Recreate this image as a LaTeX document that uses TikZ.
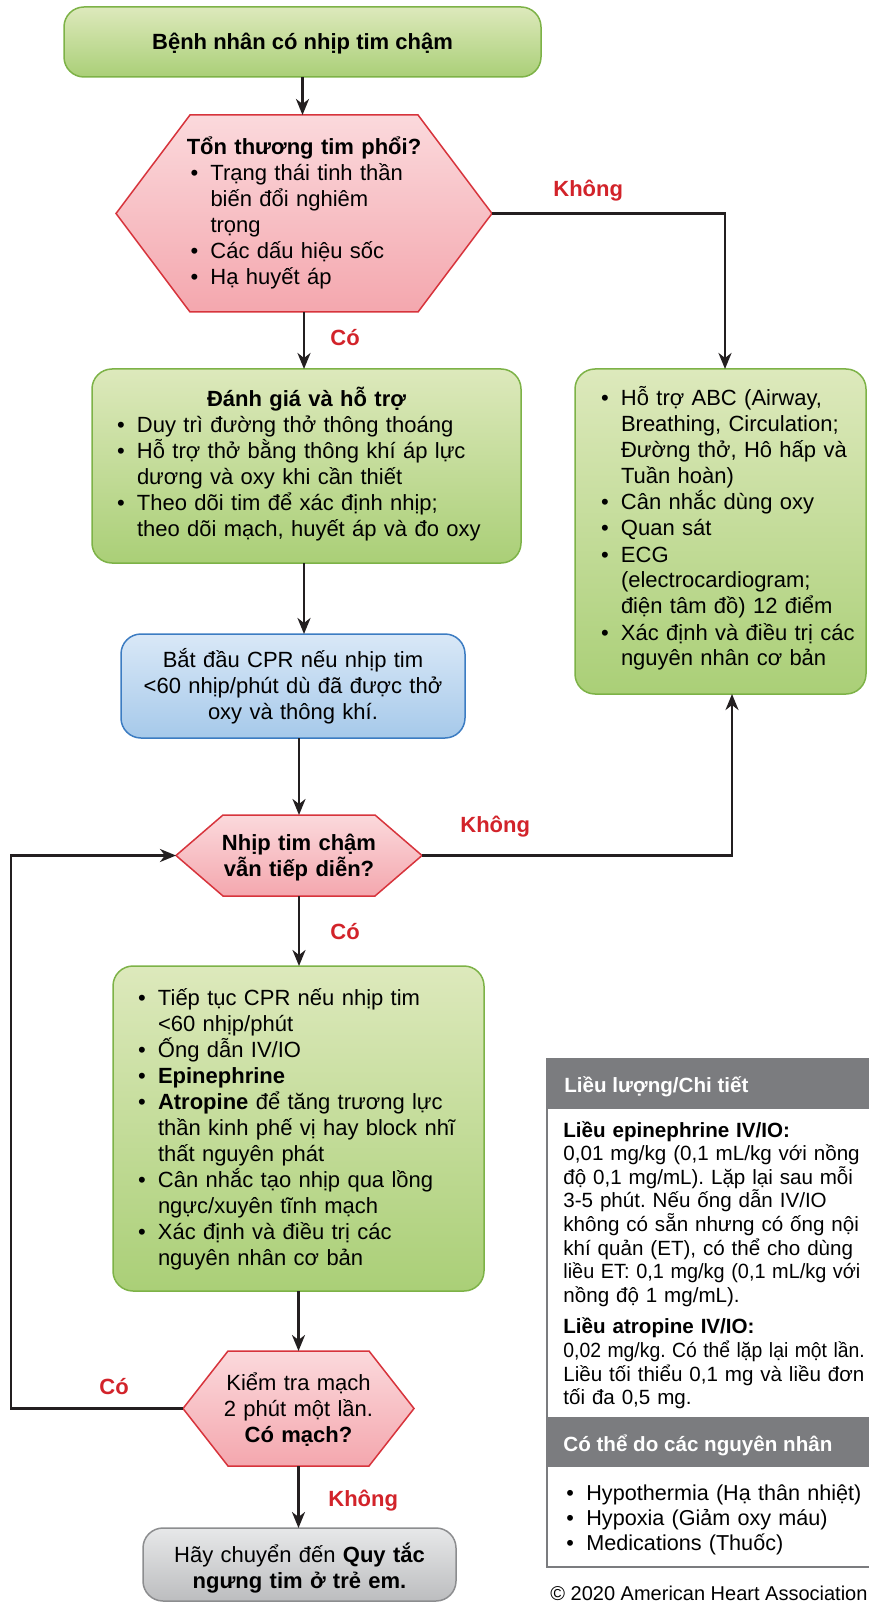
\documentclass[tikz,border=0pt]{standalone}
\usepackage{graphicx}
\usepackage{fontspec}
\setmainfont{Liberation Sans}
\usetikzlibrary{arrows.meta,backgrounds}

% colours
\definecolor{greentop}{HTML}{DDE9BC}
\definecolor{greenbot}{HTML}{AACF77}
\definecolor{greenline}{HTML}{7DB247}
\definecolor{pinktop}{HTML}{FBD9DC}
\definecolor{pinkbot}{HTML}{F4A7AE}
\definecolor{pinkline}{HTML}{D7343C}
\definecolor{bluetop}{HTML}{D9E8F7}
\definecolor{bluebot}{HTML}{A6C9EA}
\definecolor{blueline}{HTML}{3C7CC2}
\definecolor{graytop}{HTML}{E7E8E9}
\definecolor{graybot}{HTML}{BCBDBF}
\definecolor{grayline}{HTML}{8C8D8F}
\definecolor{infogray}{HTML}{7B7C7F}
\definecolor{labelred}{HTML}{D2232A}
\definecolor{arrowgray}{HTML}{231F20}

\lineskiplimit=-30pt
\normallineskiplimit=-30pt
\frenchspacing

\newlength\bulw
\setlength\bulw{10pt}
\newcommand\bitem[1]{\makebox[\bulw][l]{•}\mbox{#1}}
\newcommand\bcont[1]{\hspace*{\bulw}\mbox{#1}}
\newcommand\tight[2][0.965]{\scalebox{#1}[1]{#2}}
% hexagon behind a decision node: #1 node, #2 size of the point
\newcommand\drawhex[2]{\path[hexfill] (#1.west) -- ([xshift=#2]#1.north west) -- ([xshift=-#2]#1.north east) -- (#1.east) -- ([xshift=-#2]#1.south east) -- ([xshift=#2]#1.south west) -- cycle;}

\tikzset{
  txt/.style={font=\fontsize{11}{13}\selectfont},
  box/.style={txt, line width=.75pt, rounded corners=10pt, inner sep=0pt, outer sep=0pt, text height=10pt},
  greenbox/.style={box, draw=greenline, top color=greentop, bottom color=greenbot},
  bluebox/.style={box, draw=blueline, top color=bluetop, bottom color=bluebot},
  graybox/.style={box, draw=grayline, top color=graytop, bottom color=graybot},
  decision/.style={txt, inner sep=0pt, outer sep=0pt, text height=10pt},
  hexfill/.style={draw=pinkline, line width=.75pt, top color=pinktop, bottom color=pinkbot},
  flow/.style={draw=arrowgray, line width=1.3pt, -{Stealth[length=8pt,width=6.5pt,inset=2.5pt]}},
  answer/.style={anchor=base west, text=labelred, font=\fontsize{11}{13}\selectfont\bfseries, inner sep=0pt},
  infohead/.style={anchor=base west, inner sep=0pt, text=white, font=\fontsize{10.3}{12}\selectfont\bfseries},
  infotext/.style={anchor=base west, inner sep=0pt, align=left, text width=170pt}
}

\begin{document}
\begin{tikzpicture}[x=0.5pt,y=-0.5pt]
\useasboundingbox (0,0) rectangle (868,1604);

% main column
\node[greenbox, minimum width=238.5pt, minimum height=35pt, text depth=2pt, font=\fontsize{11}{13}\selectfont\bfseries] (start) at (302.5,42) {Bệnh nhân có nhịp tim chậm};

\node[decision, minimum width=188pt, minimum height=98.5pt, text width=113.5pt, align=left, text depth=68.5pt] (lesion) at (304,213.5) {%
\makebox[\linewidth][c]{\textbf{Tổn thương tim phổi?}}\\
\bitem{Trạng thái tinh thần}\\
\bcont{biến đổi nghiêm}\\
\bcont{trọng}\\
\bitem{Các dấu hiệu sốc}\\
\bitem{Hạ huyết áp}};

\node[greenbox, minimum width=214.5pt, minimum height=97pt, text width=189.5pt, align=left, text depth=69pt] (assess) at (306.5,466) {%
\makebox[\linewidth][c]{\textbf{Đánh giá và hỗ trợ}}\\
\bitem{Duy trì đường thở thông thoáng}\\
\bitem{Hỗ trợ thở bằng thông khí áp lực}\\
\bcont{dương và oxy khi cần thiết}\\
\bitem{Theo dõi tim để xác định nhịp;}\\
\bcont{theo dõi mạch, huyết áp và đo oxy}};

\node[bluebox, minimum width=172pt, minimum height=52pt, text width=165pt, align=center, text depth=29pt] (cpr) at (293,686) {%
Bắt đầu CPR nếu nhịp tim\\
<60 nhịp/phút dù đã được thở\\
oxy và thông khí.};

\node[greenbox, minimum width=145.5pt, minimum height=162.5pt, text width=119.5pt, align=left, text depth=135.5pt] (support) at (720.5,531.5) {%
\bitem{Hỗ trợ ABC (Airway,}\\
\bcont{Breathing, Circulation;}\\
\bcont{Đường thở, Hô hấp và}\\
\bcont{Tuần hoàn)}\\
\bitem{Cân nhắc dùng oxy}\\
\bitem{Quan sát}\\
\bitem{ECG}\\
\bcont{(electrocardiogram;}\\
\bcont{điện tâm đồ) 12 điểm}\\
\bitem{Xác định và điều trị các}\\
\bcont{nguyên nhân cơ bản}};

\node[decision, minimum width=123pt, minimum height=40.5pt, text width=110pt, align=center, text depth=15.5pt, font=\fontsize{11}{13}\selectfont\bfseries] (persist) at (299,855.5) {%
Nhịp tim chậm\\
vẫn tiếp diễn?};

\node[greenbox, minimum width=185.5pt, minimum height=162.5pt, text width=160.5pt, align=left, text depth=133.5pt] (treat) at (298.5,1128.5) {%
\bitem{Tiếp tục CPR nếu nhịp tim}\\
\bcont{<60 nhịp/phút}\\
\bitem{Ống dẫn IV/IO}\\
\bitem{\textbf{Epinephrine}}\\
\bitem{\textbf{Atropine} để tăng trương lực}\\
\bcont{thần kinh phế vị hay block nhĩ}\\
\bcont{thất nguyên phát}\\
\bitem{Cân nhắc tạo nhịp qua lồng}\\
\bcont{ngực/xuyên tĩnh mạch}\\
\bitem{Xác định và điều trị các}\\
\bcont{nguyên nhân cơ bản}};

\node[decision, minimum width=115.5pt, minimum height=57.5pt, text width=100pt, align=center, text depth=28.5pt] (pulse) at (298.5,1408.5) {%
Kiểm tra mạch\\
2 phút một lần.\\
\textbf{Có mạch?}};

\node[graybox, minimum width=156.5pt, minimum height=36.5pt, text width=150pt, align=center, text depth=12.5pt] (arrest) at (299.5,1564.5) {%
Hãy chuyển đến \textbf{Quy tắc}\\
\textbf{ngưng tim ở trẻ em.}};

% hexagons behind the decisions
\begin{scope}[on background layer]
\drawhex{lesion}{37pt}
\drawhex{persist}{23.5pt}
\drawhex{pulse}{22.5pt}
\end{scope}

% connectors
\coordinate (loopx) at (11,0);
\draw[flow] (start.south) -- (start.south |- lesion.north);
\draw[flow] (lesion.south) -- (lesion.south |- assess.north);
\draw[flow] (assess.south -| lesion.south) -- (cpr.north -| lesion.south);
\draw[flow] (cpr.south -| persist.north) -- (persist.north);
\draw[flow] (lesion.east) -| ([xshift=2.25pt]support.north);
\draw[flow] (persist.east) -| ([xshift=5.75pt]support.south);
\draw[flow] (persist.south) -- (persist.south |- treat.north);
\draw[flow] (treat.south -| pulse.north) -- (pulse.north);
\draw[flow] (pulse.south) -- (pulse.south |- arrest.north);
\draw[flow] (pulse.west) -- (pulse.west -| loopx) |- (persist.west);

% answers
\node[answer] (no1) at (553,197) {Không};
\node[answer] (yes1) at (330,346) {Có};
\node[answer] (no2) at (460,832) {Không};
\node[answer] (yes2) at (330,939) {Có};
\node[answer] (yes3) at (99,1394) {Có};
\node[answer] (no3) at (328,1506) {Không};

% dosage panel
\draw[draw=infogray, line width=1pt] (547,1059) rectangle (880,1567);
\fill[infogray] (547,1059) rectangle (880,1109);
\fill[infogray] (547,1417) rectangle (880,1467);
\node[infohead] (dosehead) at (564,1092) {Liều lượng/Chi tiết};
\node[infotext, font=\fontsize{10.3}{11.8}\selectfont] (dosetext) at (563,1137) {%
\textbf{Liều epinephrine IV/IO:}\\
0,01 mg/kg (0,1 mL/kg với nồng\\
độ 0,1 mg/mL). Lặp lại sau mỗi\\
3-5 phút. Nếu ống dẫn IV/IO\\
không có sẵn nhưng có ống nội\\
khí quản (ET), có thể cho dùng\\
\tight{liều ET: 0,1 mg/kg (0,1 mL/kg với}\\
nồng độ 1 mg/mL).\\[4pt]
\textbf{Liều atropine IV/IO:}\\
\tight[0.94]{0,02 mg/kg. Có thể lặp lại một lần.}\\
Liều tối thiểu 0,1 mg và liều đơn\\
tối đa 0,5 mg.};
\node[infohead] (causehead) at (563,1451) {Có thể do các nguyên nhân};
\node[infotext, font=\fontsize{10.8}{12.5}\selectfont] (causelist) at (566,1500) {%
\bitem{Hypothermia (Hạ thân nhiệt)}\\
\bitem{Hypoxia (Giảm oxy máu)}\\
\bitem{Medications (Thuốc)}};
\node[anchor=base west, inner sep=0pt, font=\fontsize{10}{12}\selectfont] (copyright) at (550,1600) {© 2020 American Heart Association};
\end{tikzpicture}
\end{document}
